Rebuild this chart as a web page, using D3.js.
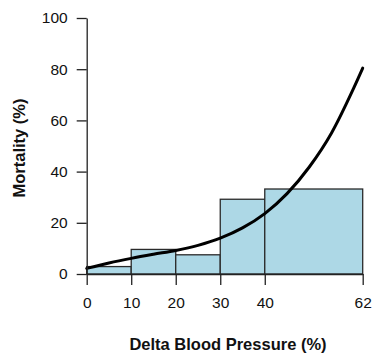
<!DOCTYPE html>
<html><head><meta charset="utf-8">
<script src="https://cdn.jsdelivr.net/npm/d3@7"></script>
<style>body{margin:0;background:#fff}svg{display:block}text{font-family:"Liberation Sans",Arial,sans-serif;fill:#111}</style>
</head><body><svg id="c" width="373" height="353"></svg>
<script>
// Histogram bins (Delta Blood Pressure %), mortality %
const binStarts = [0, 10, 20, 30, 40];
const binEnds   = [10, 20, 30, 40, 62];
const mortality = [2.9, 9.6, 7.5, 29.2, 33.2];
// Fitted curve
const curveX = [0, 5, 10, 15, 20, 25, 30, 35, 40, 45, 50, 55, 60, 62];
const curveY = [2.2, 4.3, 6.1, 7.7, 9.2, 11.2, 14.0, 18.0, 23.6, 31.4, 41.8, 55.1, 72.7, 80.4];
const xTicks = [0, 10, 20, 30, 40, 62];
const yTicks = [0, 20, 40, 60, 80, 100];

const svg = d3.select("#c");
const x = d3.scaleLinear().domain([0, 62]).range([86.7, 362.7]);
const y = d3.scaleLinear().domain([0, 100]).range([274, 18]);

// bars
svg.append("g").selectAll("rect").data(mortality).join("rect")
  .attr("x", (d,i)=>x(binStarts[i]))
  .attr("width", (d,i)=>x(binEnds[i])-x(binStarts[i]))
  .attr("y", d=>y(d))
  .attr("height", d=>y(0)-y(d))
  .attr("fill", "#add8e6").attr("stroke", "#2a2a2a").attr("stroke-width", 1.3);

// curve
const line = d3.line().x((d,i)=>x(curveX[i])).y(d=>y(d)).curve(d3.curveMonotoneX);
svg.append("path").datum(curveY).attr("d", line)
  .attr("fill","none").attr("stroke","#000").attr("stroke-width",3).attr("stroke-linecap","round");

// y axis
const ya = svg.append("g").attr("transform","translate(86.7,0)")
  .call(d3.axisLeft(y).tickValues(yTicks).tickSize(10).tickPadding(9).tickSizeOuter(0));
// x axis
const xa = svg.append("g").attr("transform","translate(0,274)")
  .call(d3.axisBottom(x).tickValues(xTicks).tickSize(11).tickPadding(12).tickSizeOuter(0));
[ya, xa].forEach(a=>{
  a.select(".domain").attr("stroke","#222").attr("stroke-width",1.3);
  a.selectAll(".tick line").attr("stroke","#222").attr("stroke-width",1.3);
  a.selectAll(".tick text").attr("font-size",15.5).attr("font-family","Liberation Sans, Arial, sans-serif").attr("fill","#111");
});

svg.append("text").attr("x", 228).attr("y", 350)
  .attr("text-anchor","middle").attr("font-weight","bold").attr("font-size",16.5)
  .text("Delta Blood Pressure (%)");
svg.append("text").attr("transform","translate(25,148) rotate(-90)")
  .attr("text-anchor","middle").attr("font-weight","bold").attr("font-size",16.5)
  .text("Mortality (%)");
</script></body></html>
